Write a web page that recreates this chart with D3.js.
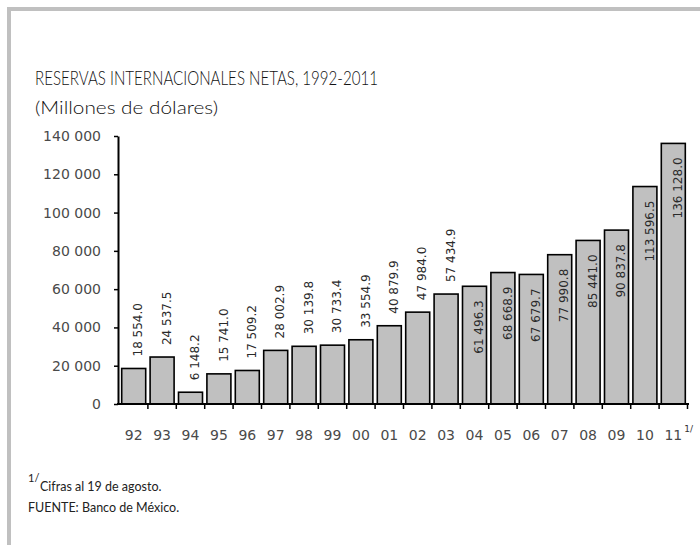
<!DOCTYPE html>
<html>
<head>
<meta charset="utf-8">
<script src="https://cdn.jsdelivr.net/npm/d3@7"></script>
<style>
  body { margin: 0; background: #fff; }
  svg { display: block; }
</style>
</head>
<body>
<script>
  const width = 700
  const height = 545
  const years = ['92', '93', '94', '95', '96', '97', '98', '99', '00', '01',
    '02', '03', '04', '05', '06', '07', '08', '09', '10', '11']
  const reserves = [
    18554.0, 24537.5, 6148.2, 15741.0, 17509.2, 28002.9, 30139.8, 30733.4, 33554.9, 40879.9,
    47984.0, 57434.9, 61496.3, 68668.9, 67679.7, 77990.8, 85441.0, 90837.8, 113596.5, 136128.0
  ]
  const yTicks = [0, 20000, 40000, 60000, 80000, 100000, 120000, 140000]
  const insideFrom = 60000

  const spaceFmt = function (f) {
    return function (d) { return f(d).replace(/,/g, ' ') }
  }
  const tickFmt = spaceFmt(d3.format(','))
  const labelFmt = spaceFmt(d3.format(',.1f'))

  const svg = d3.select('body')
    .append('svg')
    .attr('width', width)
    .attr('height', height)

  // grey frame, only top and left edges show
  svg.append('rect')
    .attr('x', 9).attr('y', 9)
    .attr('width', width).attr('height', height)
    .attr('fill', 'none')
    .attr('stroke', '#c0c0c0')
    .attr('stroke-width', 4)

  const headFont = 'Lato, "Open Sans", sans-serif'
  svg.append('text')
    .attr('x', 35).attr('y', 85)
    .attr('font-family', headFont)
    .attr('font-weight', 300)
    .attr('font-size', 20)
    .attr('fill', '#111')
    .attr('textLength', 343).attr('lengthAdjust', 'spacingAndGlyphs')
    .text('RESERVAS INTERNACIONALES NETAS, 1992-2011')

  svg.append('text')
    .attr('x', 35).attr('y', 114)
    .attr('font-family', headFont)
    .attr('font-weight', 300)
    .attr('font-size', 18)
    .attr('fill', '#111')
    .attr('textLength', 183).attr('lengthAdjust', 'spacingAndGlyphs')
    .text('(Millones de dólares)')

  const x = d3.scaleBand()
    .domain(years)
    .range([119.5, 687.5])
    .paddingInner(0.155)
    .paddingOuter(0.0775)

  const y = d3.scaleLinear()
    .domain([0, 140000])
    .range([404, 136])

  const plot = svg.append('g')

  plot.selectAll('rect.bar')
    .data(reserves)
    .enter()
    .append('rect')
    .attr('class', 'bar')
    .attr('x', function (d, i) { return x(years[i]) })
    .attr('y', function (d) { return y(d) })
    .attr('width', x.bandwidth())
    .attr('height', function (d) { return y(0) - y(d) })
    .attr('fill', '#c0c0c0')
    .attr('stroke', '#000')
    .attr('stroke-width', 1.6)

  // value labels, rotated; tall bars carry them inside
  plot.selectAll('text.val')
    .data(reserves)
    .enter()
    .append('text')
    .attr('class', 'val')
    .attr('transform', function (d, i) {
      const cx = x(years[i]) + x.bandwidth() / 2 + 4.5
      const ty = d > insideFrom ? y(d) + 14 : y(d) - 12
      return 'translate(' + cx + ',' + ty + ') rotate(-90)'
    })
    .attr('dy', '0.35em')
    .attr('text-anchor', function (d) { return d > insideFrom ? 'end' : 'start' })
    .attr('font-family', '"DejaVu Sans", Verdana, sans-serif')
    .attr('font-size', 12)
    .attr('fill', '#2a2a2a')
    .text(function (d) { return labelFmt(d) })

  // y axis
  const yAxis = svg.append('g')
    .attr('transform', 'translate(118,0)')
    .call(d3.axisLeft(y).tickValues(yTicks).tickSize(4).tickSizeOuter(0)
      .tickPadding(13).tickFormat(tickFmt))
  yAxis.select('.domain').attr('stroke', '#000').attr('stroke-width', 2)
  yAxis.selectAll('.tick line').attr('stroke', '#000').attr('stroke-width', 1.5)
  yAxis.selectAll('.tick text')
    .attr('font-family', '"DejaVu Sans", Verdana, sans-serif')
    .attr('font-size', 14)
    .attr('fill', '#4a4a4a')

  // x axis: line, boundary ticks, year labels
  const xAxis = svg.append('g')
  xAxis.append('line')
    .attr('x1', 117).attr('x2', 689)
    .attr('y1', y(0)).attr('y2', y(0))
    .attr('stroke', '#000').attr('stroke-width', 2)

  const bounds = years.map(function (d) {
    return x(d) - x.step() * x.paddingInner() / 2
  }).concat([x.range()[1]])
  xAxis.selectAll('line.tk')
    .data(bounds.slice(1))
    .enter()
    .append('line')
    .attr('class', 'tk')
    .attr('x1', function (d) { return d }).attr('x2', function (d) { return d })
    .attr('y1', y(0)).attr('y2', y(0) + 5)
    .attr('stroke', '#000').attr('stroke-width', 1.5)

  xAxis.selectAll('text.yr')
    .data(years)
    .enter()
    .append('text')
    .attr('class', 'yr')
    .attr('x', function (d) { return x(d) + x.bandwidth() / 2 })
    .attr('y', 440)
    .attr('text-anchor', 'middle')
    .attr('font-family', '"DejaVu Sans", Verdana, sans-serif')
    .attr('font-size', 14)
    .attr('fill', '#4a4a4a')
    .text(function (d) { return d })

  svg.append('text')
    .attr('x', x(years[years.length - 1]) + x.bandwidth() / 2 + 11)
    .attr('y', 432)
    .attr('font-family', '"DejaVu Sans", Verdana, sans-serif')
    .attr('font-size', 9)
    .attr('fill', '#333')
    .text('1/')

  // footnotes
  const noteFont = 'Lato, "Open Sans", sans-serif'
  svg.append('text')
    .attr('x', 28).attr('y', 482)
    .attr('font-family', noteFont)
    .attr('font-size', 11)
    .attr('fill', '#222')
    .text('1/')
  svg.append('text')
    .attr('x', 40).attr('y', 491)
    .attr('font-family', noteFont)
    .attr('font-size', 12.5)
    .attr('fill', '#222')
    .text('Cifras al 19 de agosto.')
  svg.append('text')
    .attr('x', 28).attr('y', 512)
    .attr('font-family', noteFont)
    .attr('font-size', 12.5)
    .attr('fill', '#222')
    .text('FUENTE: Banco de México.')
</script>
</body>
</html>
